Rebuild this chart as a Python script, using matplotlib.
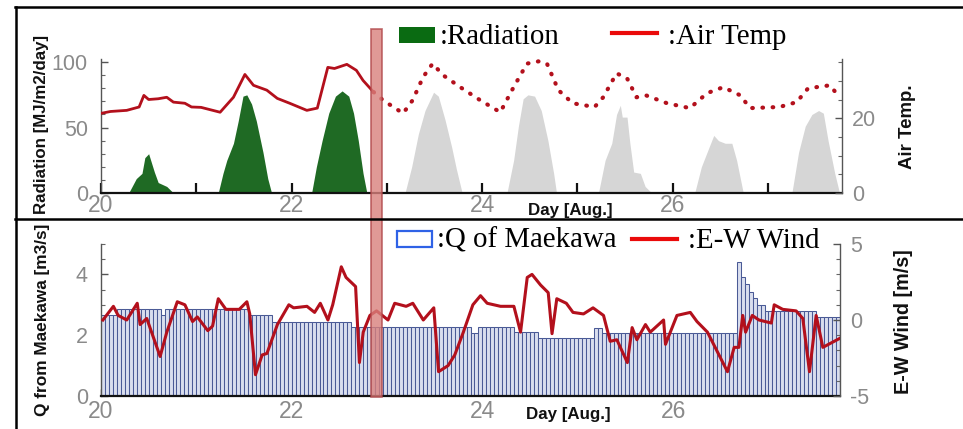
import numpy as np
import matplotlib
matplotlib.use("Agg")
import matplotlib.pyplot as plt
from matplotlib.patches import Rectangle
from matplotlib.lines import Line2D
import matplotlib.transforms as mtrans
from matplotlib.ticker import MultipleLocator

plt.rcParams["axes.unicode_minus"] = False

# ---------------- data ----------------
now_day = 22.83          # start of the highlighted "now" band
now_width = 0.12

rad_day = [20.00, 20.29, 20.37, 20.43, 20.46, 20.50, 20.53, 20.56, 20.60, 20.69, 20.76,
           21.23, 21.28, 21.32, 21.39, 21.44, 21.49, 21.53, 21.58, 21.63, 21.70, 21.75, 21.79,
           22.21, 22.26, 22.32, 22.39, 22.46, 22.53, 22.60, 22.65, 22.70, 22.75, 22.79,
           23.19, 23.26, 23.33, 23.40, 23.49, 23.54, 23.61, 23.68, 23.73, 23.79,
           24.26, 24.33, 24.38, 24.43, 24.48, 24.55, 24.62, 24.69, 24.75, 24.78,
           25.22, 25.29, 25.36, 25.41, 25.45, 25.47, 25.52, 25.55, 25.59, 25.66, 25.71, 25.78,
           26.23, 26.30, 26.37, 26.43, 26.48, 26.55, 26.62, 26.67, 26.74,
           27.25, 27.32, 27.39, 27.46, 27.53, 27.58, 27.63, 27.70, 27.75]
rad_val = [0, 0, 11, 15, 27, 30, 23, 16, 8, 5, 0,
           0, 15, 25, 38, 55, 74, 75, 68, 55, 31, 11, 0,
           0, 20, 40, 61, 74, 78, 74, 61, 40, 15, 0,
           0, 20, 45, 63, 77, 74, 56, 35, 18, 0,
           0, 25, 51, 72, 75, 74, 63, 40, 15, 0,
           0, 25, 38, 60, 67, 58, 58, 38, 16, 15, 5, 0,
           0, 20, 33, 44, 40, 38, 38, 25, 0,
           0, 31, 51, 60, 63, 61, 40, 15, 0]

temp_day = [20.00, 20.10, 20.27, 20.40, 20.45, 20.50, 20.60, 20.69, 20.76, 20.88, 20.95,
            21.05, 21.25, 21.39, 21.51, 21.60, 21.74, 21.85, 21.98, 22.16, 22.27, 22.38,
            22.45, 22.58, 22.68, 22.75, 22.86, 22.96, 23.17, 23.27, 23.38, 23.48, 23.59,
            23.77, 23.98, 24.19, 24.33, 24.47, 24.59, 24.68, 24.80, 24.95, 25.18, 25.27,
            25.41, 25.52, 25.62, 25.72, 25.94, 26.18, 26.36, 26.53, 26.71, 26.81, 27.12,
            27.30, 27.42, 27.65, 27.75]
temp_val = [21.3, 21.8, 22.1, 23.0, 26.1, 25.0, 25.2, 25.6, 24.3, 24.0, 23.0,
            22.9, 21.6, 25.6, 31.7, 28.8, 27.5, 25.3, 24.0, 22.1, 22.7, 33.6,
            33.3, 34.4, 32.8, 30.1, 27.0, 24.8, 21.3, 24.8, 31.0, 34.6, 31.5,
            28.3, 24.8, 21.6, 28.3, 34.6, 35.2, 34.6, 27.5, 24.0, 23.0, 25.6,
            32.0, 30.7, 25.6, 26.1, 24.0, 22.7, 26.7, 28.3, 26.1, 22.7, 23.0,
            24.3, 28.0, 28.8, 25.6]

# hourly discharge, run-length encoded: (level m3/s, number of hours) from Aug 20 00:00
q_levels = [2.66, 2.86, 2.66, 2.86, 2.66, 2.44, 2.28, 2.06, 2.28, 2.10, 1.92, 2.25, 2.06,
            4.40, 3.92, 3.70, 3.43, 3.22, 3.00, 2.80, 2.60]
q_hours = [4, 11, 1, 21, 6, 20, 30, 2, 9, 6, 14, 2, 34,
           1, 1, 1, 1, 1, 2, 13, 6]

wind_day = [20.02, 20.13, 20.18, 20.27, 20.38, 20.41, 20.48, 20.62, 20.69, 20.80, 20.88,
            20.96, 21.01, 21.12, 21.17, 21.23, 21.31, 21.45, 21.53, 21.56, 21.62, 21.69,
            21.74, 21.85, 21.97, 22.02, 22.16, 22.24, 22.30, 22.38, 22.43, 22.52, 22.57,
            22.67, 22.71, 22.75, 22.82, 22.89, 23.01, 23.08, 23.20, 23.27, 23.38, 23.49,
            23.54, 23.64, 23.71, 23.80, 23.90, 23.98, 24.05, 24.19, 24.33, 24.40, 24.47,
            24.52, 24.61, 24.69, 24.73, 24.78, 24.88, 24.95, 25.06, 25.16, 25.27, 25.34,
            25.41, 25.52, 25.57, 25.62, 25.71, 25.76, 25.90, 25.92, 26.04, 26.18, 26.25,
            26.36, 26.57, 26.64, 26.69, 26.73, 26.76, 26.83, 26.90, 27.03, 27.06, 27.15,
            27.29, 27.36, 27.43, 27.50, 27.57, 27.75]
wind_val = [0.0, 0.9, 0.3, 0.0, 1.1, -0.3, 0.1, -2.4, -0.8, 1.2, 1.0,
            -0.1, 0.2, -0.7, -0.4, 1.4, 0.7, 0.7, 1.2, 0.4, -3.6, -2.3,
            -2.2, -0.3, 1.0, 0.8, 0.9, 0.5, 1.1, 0.0, 1.0, 3.5, 2.8,
            2.2, -2.8, -0.8, 0.3, 0.6, 0.0, 1.1, 0.9, 1.1, 0.0, 0.8,
            -3.4, -3.0, -2.3, -0.8, 1.0, 1.6, 1.1, 0.9, 0.9, -0.8, 2.8,
            3.0, 2.3, 1.8, -0.9, 1.4, 1.1, 0.5, 0.4, 0.8, 0.3, -1.4,
            -1.3, -2.8, -0.5, -1.3, -0.3, -0.8, 0.0, -1.6, 0.3, 0.5, -0.1,
            -0.8, -3.4, -1.8, -1.8, 0.3, -0.8, 0.3, 0.0, -0.2, 1.0, 0.7,
            0.6, 0.1, -3.4, 0.3, -1.8, -1.2]

day_ticks = [20, 22, 24, 26]

# ---------------- figure ----------------
W, H = 963, 429
fig = plt.figure(figsize=(W / 100, H / 100), dpi=100)
fig.patch.set_facecolor("white")

def fx(px):
    return px / W

def fy(py):
    return 1 - py / H

TICKFONT = "Liberation Sans"
TICKCOL = "#8a8a8a"
DATARED = "#b3101c"

rad_day_a = np.array(rad_day)
rad_val_a = np.array(rad_val)
temp_day_a = np.array(temp_day)
temp_val_a = np.array(temp_val)

# ---- top panel ----
ax1 = fig.add_axes([fx(101), fy(193), fx(842) - fx(101), (193 - 59.5) / H])
ax1.set_xlim(20, 27.776)
ax1.set_ylim(0, 102)
ax1.fill_between(rad_day_a, 0, rad_val_a, where=rad_day_a < now_day,
                 color="#1f6a24", lw=0, zorder=2)
ax1.fill_between(rad_day_a, 0, rad_val_a, where=rad_day_a > now_day,
                 color="#d6d6d6", lw=0, zorder=2)

ax1r = ax1.twinx()
ax1r.set_ylim(0, 35.7)
solid = temp_day_a <= 22.861
ax1r.plot(temp_day_a[solid], temp_val_a[solid], color=DATARED, lw=2.0, zorder=3)
dott = temp_day_a >= 22.859
ax1r.plot(temp_day_a[dott], temp_val_a[dott], color=DATARED, lw=3.0,
          linestyle=(0, (0.15, 2.3)), dash_capstyle="round", zorder=3)

# ---- bottom panel ----
ax2 = fig.add_axes([fx(101), fy(396), fx(840) - fx(101), (396 - 244) / H])
ax2.set_xlim(20, 27.75)
ax2.set_ylim(0, 5)
q_hourly = np.repeat(q_levels, q_hours)
bar_left = 20 + np.arange(len(q_hourly)) / 24.0
ax2.bar(bar_left, q_hourly, width=1 / 24.0, align="edge",
        facecolor="#d9deee", edgecolor="#4a5a96", linewidth=0.75, zorder=2)

ax2r = ax2.twinx()
ax2r.set_ylim(-5, 5)
ax2r.plot(wind_day, wind_val, color=DATARED, lw=2.2, zorder=3)

# ---- axes styling ----
for a in (ax1, ax2):
    a.set_facecolor("none")
    a.spines["top"].set_visible(False)
    a.spines["right"].set_visible(False)
    a.spines["left"].set_color("#555555")
    a.spines["left"].set_linewidth(1.0)
    a.spines["bottom"].set_color("#111111")
    a.spines["bottom"].set_linewidth(1.6)
    a.set_xticks(day_ticks)
    a.set_xticklabels([str(d) for d in day_ticks])
    a.xaxis.set_minor_locator(MultipleLocator(0.5))
for a in (ax1r, ax2r):
    for s in ("top", "left", "bottom"):
        a.spines[s].set_visible(False)
    a.spines["right"].set_color("#555555")
    a.spines["right"].set_linewidth(1.0)

ax1.tick_params(axis="x", which="both", direction="in", length=7, width=1.6,
                color="#111111", labelsize=16.5, labelcolor=TICKCOL, pad=1)
ax2.tick_params(axis="x", which="both", direction="in", length=5, width=1.0,
                color="#333333", labelsize=16.5, labelcolor=TICKCOL, pad=3)

ax1.set_yticks([0, 50, 100])
ax1.yaxis.set_minor_locator(MultipleLocator(10))
ax1r.set_yticks([0, 20])
ax1r.yaxis.set_minor_locator(MultipleLocator(5))
ax2.set_yticks([0, 2, 4])
ax2.yaxis.set_minor_locator(MultipleLocator(0.5))
ax2r.set_yticks([-5, 0, 5])
ax2r.yaxis.set_minor_locator(MultipleLocator(1))

for a, p in ((ax1, 9.5), (ax1r, 7), (ax2, 9.5), (ax2r, 7)):
    a.tick_params(axis="y", which="major", direction="in", length=5, width=1.0,
                  color="#555555", labelsize=15.5, labelcolor=TICKCOL, pad=p)
    a.tick_params(axis="y", which="minor", direction="in", length=3, width=0.8,
                  color="#666666")
    for lab in a.get_xticklabels() + a.get_yticklabels():
        lab.set_fontfamily(TICKFONT)

# ---- axis titles ----
LAB = dict(fontfamily="Liberation Sans", fontweight="bold", color="#111111",
           ha="center", va="center")
fig.text(fx(42), fy(124), "Radiation [MJ/m2/day]", rotation=90, fontsize=12.2, **LAB)
fig.text(fx(43), fy(320), "Q from Maekawa [m3/s]", rotation=90, fontsize=12.4, **LAB)
fig.text(fx(907), fy(127), "Air Temp.", rotation=90, fontsize=13.4, **LAB)
fig.text(fx(903), fy(322), "E-W Wind [m/s]", rotation=90, fontsize=14.2, **LAB)
fig.text(fx(570), fy(210), "Day [Aug.]", fontsize=12.2, **LAB)
fig.text(fx(568), fy(414), "Day [Aug.]", fontsize=12.2, **LAB)

# ---- legends (drawn in figure coordinates) ----
fig.patches.append(Rectangle((fx(399), fy(43)), fx(435) - fx(399), (43 - 27) / H,
                             transform=fig.transFigure, facecolor="#0a6b12",
                             edgecolor="none", zorder=6))
fig.lines.append(Line2D([fx(612), fx(657)], [fy(33), fy(33)], transform=fig.transFigure,
                        color="#ea0a0a", lw=3.0, zorder=6))
fig.patches.append(Rectangle((fx(397), fy(247)), fx(432) - fx(397), (247 - 231) / H,
                             transform=fig.transFigure, facecolor="white",
                             edgecolor="#2f62e6", lw=1.6, zorder=6))
fig.lines.append(Line2D([fx(632), fx(677)], [fy(239), fy(239)], transform=fig.transFigure,
                        color="#ea0a0a", lw=3.0, zorder=6))
LEG = dict(fontfamily="Liberation Serif", fontsize=20.8, color="black",
           ha="left", va="baseline", zorder=7)
fig.text(fx(440), fy(44), ":Radiation", **LEG)
fig.text(fx(668), fy(44), ":Air Temp", **LEG)
fig.text(fx(437), fy(248), ":Q of Maekawa", **LEG)
fig.text(fx(688), fy(248), ":E-W Wind", **LEG)

# ---- "now" band spanning both panels ----
blend = mtrans.blended_transform_factory(ax1.transData, fig.transFigure)
band = Rectangle((now_day, fy(397)), now_width, (397 - 29) / H, transform=blend,
                 facecolor="#d9807c", edgecolor="#b0474a", lw=1.2, alpha=0.8,
                 zorder=8, clip_on=False)
fig.patches.append(band)

# ---- frame lines ----
for xs, ys in (([fx(15), 1.0], [fy(6.5), fy(6.5)]),
               ([fx(15), 1.0], [fy(218.5), fy(218.5)]),
               ([fx(16), fx(16)], [fy(6.5), 0.0])):
    fig.lines.append(Line2D(xs, ys, transform=fig.transFigure, color="black",
                            lw=1.8, zorder=9))

fig.savefig("out.png", dpi=100)
